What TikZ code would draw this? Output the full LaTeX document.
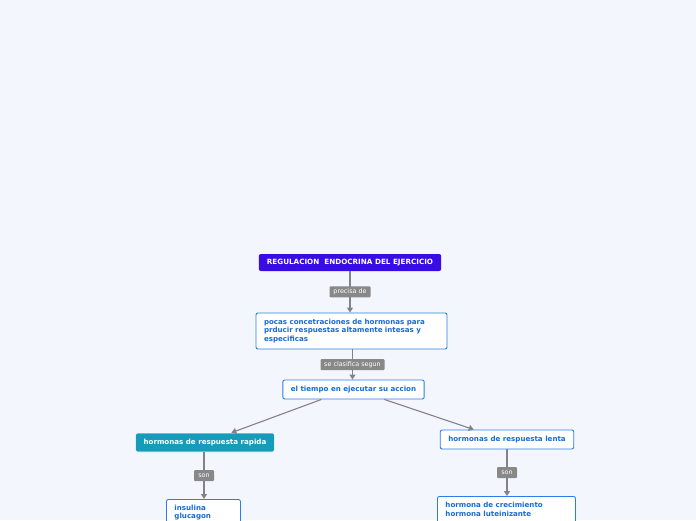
\documentclass[tikz,border=0pt]{standalone}
\usepackage{fontspec}
\setmainfont{DejaVu Sans}
\usetikzlibrary{calc,arrows.meta}
\definecolor{bg}{RGB}{243,246,253}
\definecolor{titlefill}{RGB}{56,12,226}
\definecolor{tealfill}{RGB}{22,155,186}
\definecolor{boxline}{RGB}{43,125,233}
\definecolor{boxtext}{RGB}{22,108,214}
\definecolor{lblfill}{RGB}{136,136,136}
\definecolor{connc}{RGB}{130,130,136}
\tikzset{
  base/.style={rectangle, rounded corners=2pt, inner xsep=8pt, inner ysep=0pt, font=\fontsize{7.1}{8.6}\selectfont\bfseries},
  titlebox/.style={base, fill=titlefill, text=white, minimum height=17pt},
  conbox/.style={base, fill=white, draw=boxline, line width=0.9pt, text=boxtext, minimum height=19pt},
  tealbox/.style={base, fill=tealfill, draw=white, line width=0.6pt, text=white, minimum height=19pt},
  lbl/.style={rectangle, fill=lblfill, text=white, rounded corners=1pt, inner sep=0pt, minimum height=11pt, font=\fontsize{6.4}{7}\selectfont},
  conn/.style={draw=connc, line width=1.1pt, -{Triangle[length=5pt,width=6pt]}},
}
\begin{document}
\begin{tikzpicture}[x=1pt,y=-1pt]
\fill[bg] (0,0) rectangle (696,520);
\useasboundingbox (0,0) rectangle (696,520);
\begin{scope}
\clip (0,0) rectangle (696,520);
\node[titlebox, minimum width=182pt, font=\fontsize{7.2}{8.6}\selectfont\bfseries] (t) at (350,262.5) {REGULACION\ \ ENDOCRINA DEL EJERCICIO};
\node[conbox, minimum width=191pt, minimum height=36pt, text width=175pt, align=left] (b2) at (351.5,331) {pocas concetraciones de hormonas para\\prducir respuestas altamente intesas y\\especificas};
\node[conbox, minimum width=139pt] (b3) at (353.5,389.5) {el tiempo en ejecutar su accion};
\node[tealbox, minimum width=136pt] (b4) at (205,442.5) {hormonas de respuesta rapida};
\node[conbox, minimum width=130pt] (b5) at (507,439.5) {hormonas de respuesta lenta};
\node[conbox, anchor=north west, minimum width=74pt, text width=58pt, align=left, inner ysep=5.5pt] (b6) at (166,499) {insulina\\glucagon\\\strut};
\node[conbox, anchor=north west, minimum width=138pt, text width=122pt, align=left, inner ysep=6pt] (b7) at (437,496) {hormona de crecimiento\\hormona luteinizante\\\strut};

\coordinate (p1) at ($(b2.south)+(1,0)$);
\coordinate (p2) at ($(b4.south)+(-1,0)$);
\coordinate (q1) at ($(b3.south west)+(39,0)$);
\coordinate (q2) at ($(b4.north west)+(96,0)$);
\coordinate (q3) at ($(b3.south west)+(102,0)$);
\coordinate (q4) at ($(b5.north west)+(34,0)$);
\draw[conn] (t.south) -- node[lbl, minimum width=41pt] (l1) {precisa de} (t.south |- b2.north);
\draw[conn] (p1) -- node[lbl, minimum width=64pt] (l2) {se clasifica segun} (p1 |- b3.north);
\draw[conn] (q1) -- (q2);
\draw[conn] (q3) -- (q4);
\draw[conn] (p2) -- node[lbl, minimum width=20pt] (l3) {son} (p2 |- b6.north);
\draw[conn] (b5.south) -- node[lbl, minimum width=20pt] (l4) {son} (b5.south |- b7.north);
\end{scope}
\end{tikzpicture}
\end{document}
